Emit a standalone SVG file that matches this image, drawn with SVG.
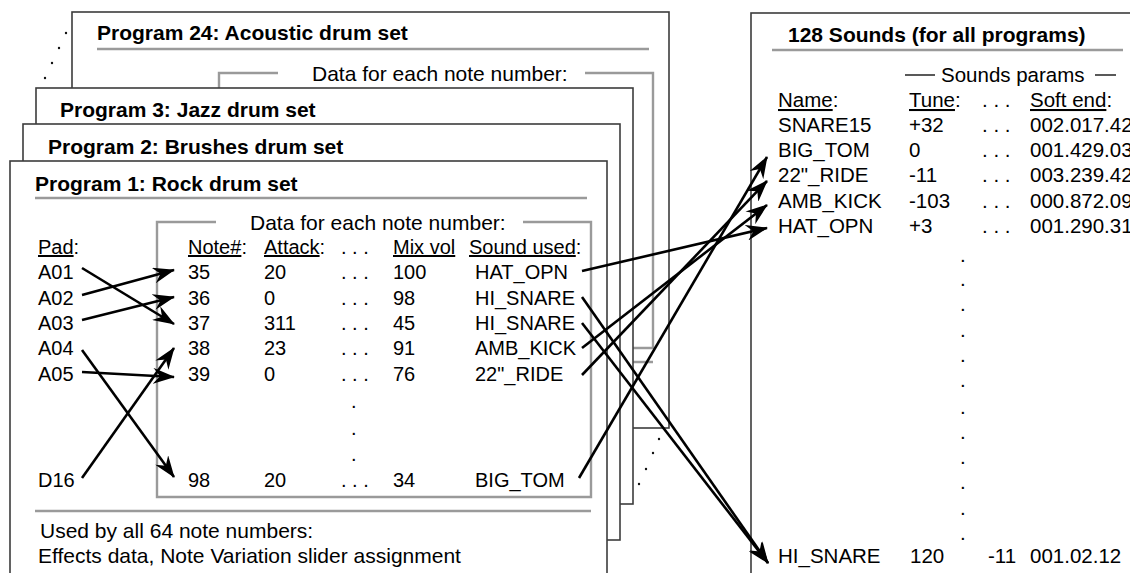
<svg xmlns="http://www.w3.org/2000/svg" width="1130" height="573" viewBox="0 0 1130 573">
<defs>
<style>
.frame{fill:#fff;stroke:#3c3c3c;stroke-width:1.6}
.gray{stroke:#9a9a9a;stroke-width:2.4;fill:none}
.dk{stroke:#222;stroke-width:1.5;fill:none}
text{font-family:"Liberation Sans",Arial,Helvetica,sans-serif;fill:#000}
.t{font-size:20px}
.m{font-size:21px}
.b{font-size:21px;font-weight:bold}
.u{text-decoration:underline}
.conn{stroke:#000;stroke-width:2.6;fill:none;marker-end:url(#arr)}
.dot{fill:#111}
</style>
<marker id="arr" viewBox="0 0 22 16" refX="21" refY="8" markerWidth="22" markerHeight="16" markerUnits="userSpaceOnUse" orient="auto">
<path d="M0,0 L22,8 L0,16 L7,8 Z" fill="#000"/>
</marker>
</defs>
<rect width="1130" height="573" fill="#fff"/>

<g id="stack-dots-top">
<circle class="dot" cx="66" cy="33" r="1.2"/><circle class="dot" cx="59" cy="48" r="1.2"/><circle class="dot" cx="52" cy="63" r="1.2"/><circle class="dot" cx="45" cy="78" r="1.2"/>
</g>

<g id="program24">
<rect class="frame" x="72" y="12" width="597" height="416"/>
<text class="b" x="97" y="40">Program 24: Acoustic drum set</text>
<line class="gray" x1="97" y1="49" x2="649" y2="49"/>
<path class="gray" d="M278,73 H219 V348 H653 V73 H585"/>
<line class="gray" x1="97" y1="362" x2="653" y2="362"/>
<text class="m" x="312" y="81">Data for each note number:</text>
</g>

<g id="program3">
<rect class="frame" x="36" y="88" width="597" height="416"/>
<text class="b" x="60" y="117">Program 3: Jazz drum set</text>
</g>

<g id="program2">
<rect class="frame" x="23" y="124" width="597" height="416"/>
<text class="b" x="48" y="154">Program 2: Brushes drum set</text>
</g>

<g id="stack-dots-bottom">
<circle class="dot" cx="659" cy="439" r="1.2"/><circle class="dot" cx="653" cy="453" r="1.2"/><circle class="dot" cx="646" cy="469" r="1.2"/><circle class="dot" cx="639" cy="484" r="1.2"/>
</g>

<g id="program1">
<rect class="frame" x="10" y="161" width="597" height="420"/>
<text class="b" x="35" y="191">Program 1: Rock drum set</text>
<line class="gray" x1="35" y1="198" x2="587" y2="198"/>
<path class="gray" d="M216,222 H157 V497 H591 V222 H523"/>
<text class="m" x="250" y="230">Data for each note number:</text>
<line class="gray" x1="35" y1="511" x2="591" y2="511"/>
<g class="t">
<text x="38" y="254"><tspan class="u">Pad</tspan>:</text>
<text x="188" y="254"><tspan class="u">Note#</tspan>:</text>
<text x="264" y="254"><tspan class="u">Attack</tspan>:</text>
<text x="341" y="254">. . .</text>
<text x="393" y="254" class="u">Mix vol</text>
<text x="469" y="254"><tspan class="u">Sound used</tspan>:</text>

<text x="38" y="279">A01</text><text x="188" y="279">35</text><text x="264" y="279">20</text><text x="341" y="279">. . .</text><text x="393" y="279">100</text><text x="475" y="279">HAT_OPN</text>
<text x="38" y="304.5">A02</text><text x="188" y="304.5">36</text><text x="264" y="304.5">0</text><text x="341" y="304.5">. . .</text><text x="393" y="304.5">98</text><text x="475" y="304.5">HI_SNARE</text>
<text x="38" y="330">A03</text><text x="188" y="330">37</text><text x="264" y="330">311</text><text x="341" y="330">. . .</text><text x="393" y="330">45</text><text x="475" y="330">HI_SNARE</text>
<text x="38" y="355">A04</text><text x="188" y="355">38</text><text x="264" y="355">23</text><text x="341" y="355">. . .</text><text x="393" y="355">91</text><text x="475" y="355">AMB_KICK</text>
<text x="38" y="380.5">A05</text><text x="188" y="380.5">39</text><text x="264" y="380.5">0</text><text x="341" y="380.5">. . .</text><text x="393" y="380.5">76</text><text x="475" y="380.5">22"_RIDE</text>
<text x="351" y="408">.</text>
<text x="351" y="434.5">.</text>
<text x="351" y="461">.</text>
<text x="38" y="487">D16</text><text x="188" y="487">98</text><text x="264" y="487">20</text><text x="341" y="487">. . .</text><text x="393" y="487">34</text><text x="475" y="487">BIG_TOM</text>
</g>
<text class="m" x="40" y="538">Used by all 64 note numbers:</text>
<text class="m" x="38" y="563">Effects data, Note Variation slider assignment</text>
</g>

<g id="sounds">
<rect class="frame" x="751" y="13" width="420" height="600"/>
<text class="b" x="788" y="42">128 Sounds (for all programs)</text>
<line class="gray" x1="772" y1="50" x2="1123" y2="50"/>
<line class="dk" x1="905" y1="75" x2="935" y2="75"/>
<line class="dk" x1="1095" y1="75" x2="1116" y2="75"/>
<g class="t" style="font-size:20.5px">
<text x="941" y="82">Sounds params</text>
<text x="778" y="107"><tspan class="u">Name</tspan>:</text>
<text x="909" y="107"><tspan class="u">Tune</tspan>:</text>
<text x="982" y="107">. . .</text>
<text x="1030" y="107"><tspan class="u">Soft end</tspan>:</text>
<text x="778" y="132">SNARE15</text><text x="909" y="132">+32</text><text x="982" y="132">. . .</text><text x="1030" y="132">002.017.42</text>
<text x="778" y="157">BIG_TOM</text><text x="909" y="157">0</text><text x="982" y="157">. . .</text><text x="1030" y="157">001.429.03</text>
<text x="778" y="182">22"_RIDE</text><text x="909" y="182">-11</text><text x="982" y="182">. . .</text><text x="1030" y="182">003.239.42</text>
<text x="778" y="207.5">AMB_KICK</text><text x="909" y="207.5">-103</text><text x="982" y="207.5">. . .</text><text x="1030" y="207.5">000.872.09</text>
<text x="778" y="233">HAT_OPN</text><text x="909" y="233">+3</text><text x="982" y="233">. . .</text><text x="1030" y="233">001.290.31</text>
<text x="960" y="261.5">.</text><text x="960" y="286">.</text><text x="960" y="311">.</text><text x="960" y="337">.</text><text x="960" y="362">.</text><text x="960" y="387">.</text>
<text x="960" y="413.5">.</text><text x="960" y="439">.</text><text x="960" y="464">.</text><text x="960" y="489">.</text><text x="960" y="515">.</text><text x="960" y="540">.</text>
<text x="778" y="563">HI_SNARE</text><text x="910" y="563">120</text><text x="988" y="563">-11</text><text x="1030" y="563">001.02.12</text>
</g>
</g>

<g id="connectors">
<line class="conn" x1="82" y1="268" x2="174" y2="324"/>
<line class="conn" x1="82" y1="295" x2="174" y2="270"/>
<line class="conn" x1="82" y1="320" x2="174" y2="297"/>
<line class="conn" x1="82" y1="350" x2="174" y2="477"/>
<line class="conn" x1="82" y1="372" x2="174" y2="377"/>
<line class="conn" x1="82" y1="478" x2="174" y2="348"/>
<line class="conn" x1="582" y1="271" x2="767" y2="228"/>
<line class="conn" x1="582" y1="297" x2="768" y2="563"/>
<line class="conn" x1="582" y1="323" x2="768" y2="563"/>
<line class="conn" x1="582" y1="348" x2="767" y2="205"/>
<line class="conn" x1="582" y1="375" x2="767" y2="181"/>
<line class="conn" x1="579" y1="478" x2="767" y2="157"/>
</g>
</svg>
